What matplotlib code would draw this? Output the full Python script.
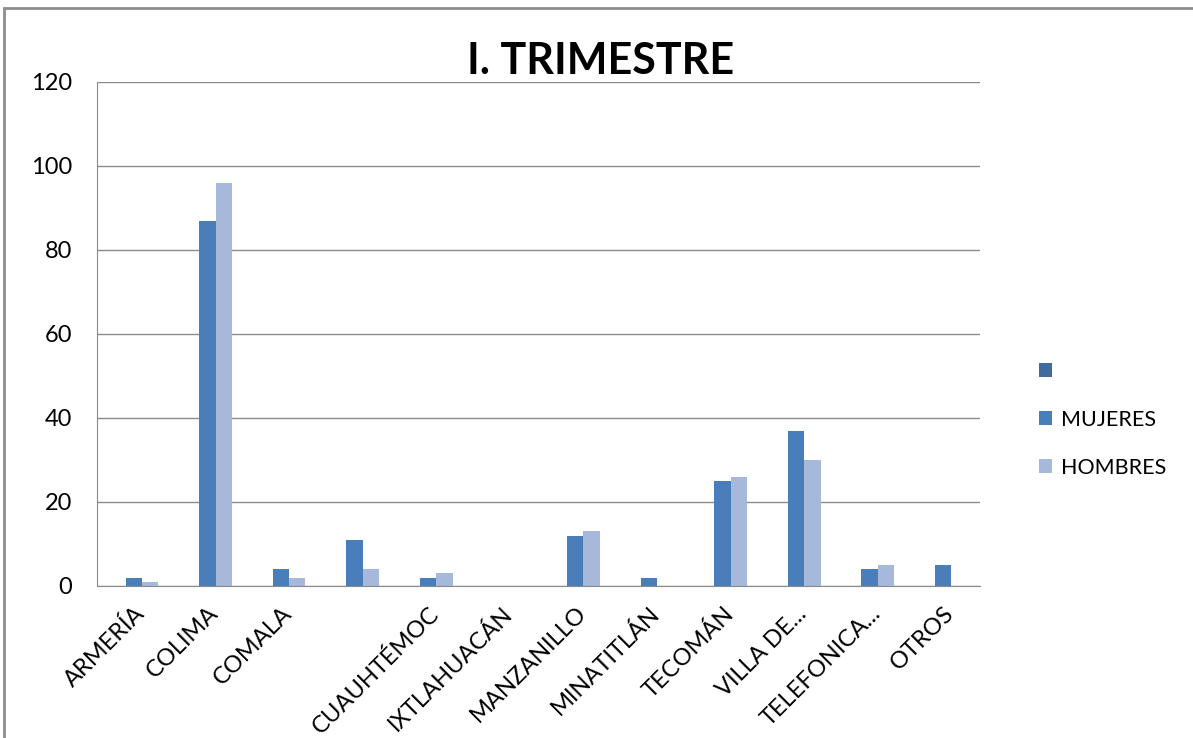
import numpy as np
import matplotlib.pyplot as plt
from matplotlib.patches import Rectangle

# Datos del gráfico
municipios = ['ARMERÍA', 'COLIMA', 'COMALA', '', 'CUAUHTÉMOC', 'IXTLAHUACÁN',
              'MANZANILLO', 'MINATITLÁN', 'TECOMÁN', 'VILLA DE...', 'TELEFONICA...', 'OTROS']
serie_vacia = [0, 0, 0, 0, 0, 0, 0, 0, 0, 0, 0, 0]
mujeres = [2, 87, 4, 11, 2, 0, 12, 2, 25, 37, 4, 5]
hombres = [1, 96, 2, 4, 3, 0, 13, 0, 26, 30, 5, 0]

plt.rcParams['font.family'] = ['Lato', 'DejaVu Sans']

fig = plt.figure(figsize=(11.93, 7.38), dpi=100)
ax = fig.add_axes([97 / 1193, 152 / 738, 883 / 1193, 504 / 738])

# Marco del área del gráfico
fig.patches.append(Rectangle((4 / 1193, -0.05), 1.1, (738 - 8) / 738 + 0.05,
                             transform=fig.transFigure, fill=False,
                             edgecolor='#8c8c8c', linewidth=2))

x = np.arange(len(municipios))
ancho = 1 / 4.5
ax.bar(x - ancho, serie_vacia, ancho, color='#3f6b9f', label=' ')
ax.bar(x, mujeres, ancho, color='#4a7ebb', label='MUJERES')
ax.bar(x + ancho, hombres, ancho, color='#a7b9da', label='HOMBRES')

ax.set_xlim(-0.5, len(municipios) - 0.5)
ax.set_ylim(0, 120)
ax.set_yticks(range(0, 121, 20))
ax.yaxis.grid(True, color='#8a8a8a', linewidth=1)
ax.set_axisbelow(True)

for lado in ['top', 'right']:
    ax.spines[lado].set_visible(False)
ax.spines['left'].set_color('#8a8a8a')
ax.spines['bottom'].set_color('#8a8a8a')

ax.tick_params(axis='y', length=0, pad=18, labelsize=17)
ax.tick_params(axis='x', length=0, pad=12, labelsize=17)
ax.set_xticks(x)
ax.set_xticklabels(municipios, rotation=45, ha='right', rotation_mode='anchor')

fig.text(0.503, 0.918, 'I. TRIMESTRE', ha='center', va='center',
         fontsize=31, fontweight='bold')

ax.legend(loc='center left', bbox_to_anchor=(1.045, 0.33), frameon=False,
          fontsize=15.5, handlelength=0.6, handleheight=0.6, labelspacing=1.3,
          handletextpad=0.4)

fig.savefig('out.png', dpi=100)
